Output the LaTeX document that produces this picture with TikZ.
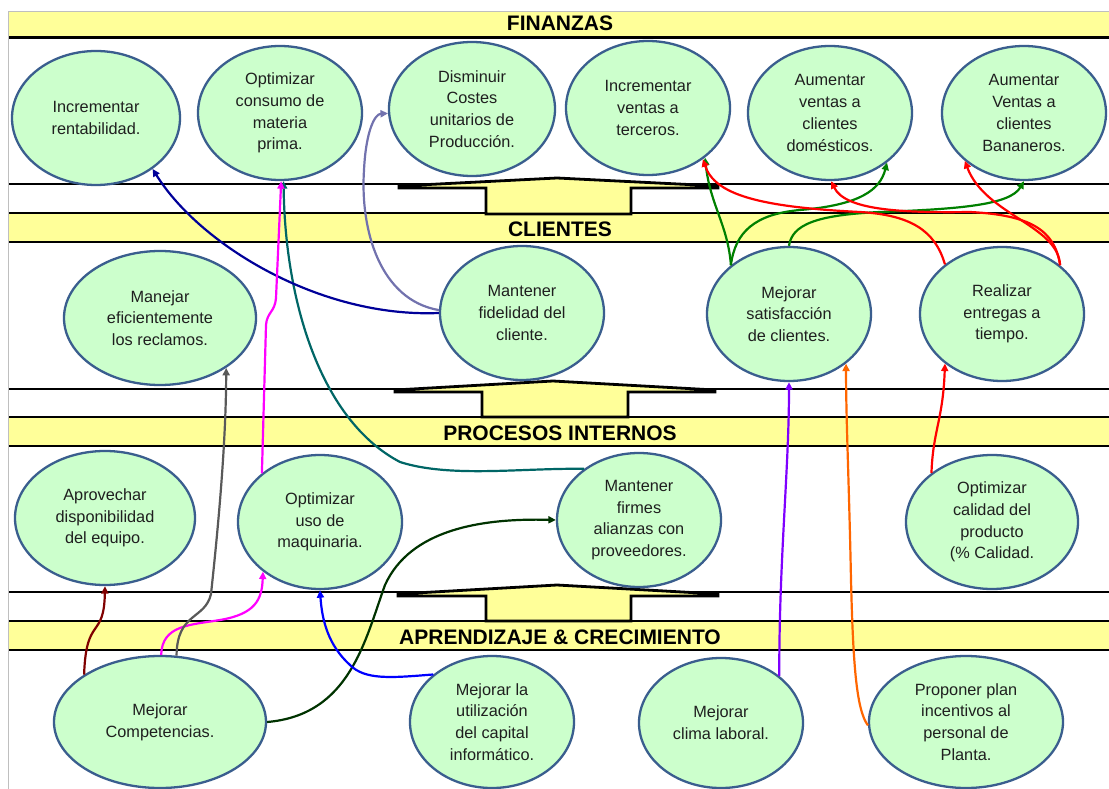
\documentclass[tikz,border=0pt]{standalone}
\usepackage{fontspec}
\setmainfont{Liberation Sans}
\usetikzlibrary{arrows.meta,shapes.geometric}
\definecolor{bandyellow}{HTML}{FFFF99}
\definecolor{goalfill}{HTML}{CCFFCC}
\definecolor{goalline}{HTML}{3A5E8E}
\definecolor{cnavy}{HTML}{000099}
\definecolor{cmag}{HTML}{FF00FF}
\definecolor{cgray}{HTML}{595959}
\definecolor{cdred}{HTML}{800000}
\definecolor{cdgreen}{HTML}{003300}
\definecolor{cblue}{HTML}{0000FF}
\definecolor{cteal}{HTML}{006666}
\definecolor{clav}{HTML}{7272AE}
\definecolor{cgreen}{HTML}{008000}
\definecolor{cred}{HTML}{FF0000}
\definecolor{cpurp}{HTML}{7F00FF}
\definecolor{corange}{HTML}{FF6600}
\definecolor{cframe}{HTML}{BFBFBF}
\begin{document}
\begin{tikzpicture}[x=1pt,y=-1pt,
  goal/.style={ellipse, draw=goalline, fill=goalfill, line width=2.3pt, inner sep=0pt, align=center,
    font=\fontsize{16.3}{21.7}\selectfont, text=black!88},
  bandfill/.style={fill=bandyellow, draw=none},
  bandlabel/.style={anchor=base, inner sep=0pt, font=\fontsize{21}{24}\bfseries\selectfont},
  bandrule/.style={line width=1.7pt},
  blockarrow/.style={fill=bandyellow, draw=black, line width=2.8pt, line join=miter},
  conn/.style={line width=2.2pt, -{Triangle[length=7.5pt,width=7pt]}},
]
\fill[white] (0,0) rectangle (1109,789);
\useasboundingbox (0,0) rectangle (1109,789);

% bands
\fill[bandfill] (8,12) rectangle (1109,37);
\fill[bandfill] (8,213) rectangle (1109,242);
\fill[bandfill] (8,417) rectangle (1109,446);
\fill[bandfill] (8,621) rectangle (1109,650);
\foreach \y in {184,213,242,389,417,446,592,621,650} \draw[bandrule] (8,\y) -- (1109,\y);
\draw[line width=2.6pt] (8,37.5) -- (1109,37.5);
\draw[cframe, line width=1pt] (8,789) -- (8,12) -- (1109,12);

% block arrows
\draw[blockarrow] (486,214) -- (486,188) -- (399,188) -- (399,186) -- (557,178) -- (718,186) -- (718,188) -- (631,188) -- (631,214) -- cycle;
\draw[blockarrow] (482,417) -- (482,392) -- (395,392) -- (395,390) -- (553,381) -- (715,390) -- (715,392) -- (628,392) -- (628,417) -- cycle;
\draw[blockarrow] (486,621) -- (486,596) -- (398,596) -- (398,594) -- (557,585) -- (718,594) -- (718,596) -- (631,596) -- (631,621) -- cycle;

% band labels
\node[bandlabel] (LF) at (560,31) {FINANZAS};
\node[bandlabel] (LC) at (560,236) {CLIENTES};
\node[bandlabel] (LP) at (560,440) {PROCESOS INTERNOS};
\node[bandlabel] (LA) at (560,644) {APRENDIZAJE \& CRECIMIENTO};

% finanzas
\node[goal, minimum width=168pt, minimum height=134pt] (A1) at (96,118) {Incrementar\\rentabilidad.};
\node[goal, minimum width=164pt, minimum height=134pt] (A2) at (280,113) {Optimizar\\consumo de\\materia\\prima.};
\node[goal, minimum width=166pt, minimum height=134pt] (A3) at (472,109) {Disminuir\\Costes\\unitarios de\\Producción.};
\node[goal, minimum width=164pt, minimum height=134pt] (A4) at (648,108) {Incrementar\\ventas a\\terceros.};
\node[goal, minimum width=164pt, minimum height=134pt] (A5) at (830,113) {Aumentar\\ventas a\\clientes\\domésticos.};
\node[goal, minimum width=164pt, minimum height=134pt] (A6) at (1024,113) {Aumentar\\Ventas a\\clientes\\Bananeros.};
% clientes
\node[goal, minimum width=192pt, minimum height=134pt] (B1) at (160,318) {Manejar\\eficientemente\\los reclamos.};
\node[goal, minimum width=164pt, minimum height=134pt] (B2) at (522,313) {Mantener\\fidelidad del\\cliente.};
\node[goal, minimum width=164pt, minimum height=134pt] (B3) at (789,314) {Mejorar\\satisfacción\\de clientes.};
\node[goal, minimum width=164pt, minimum height=134pt] (B4) at (1002,314) {Realizar\\entregas a\\tiempo.};
% procesos
\node[goal, minimum width=180pt, minimum height=134pt] (C1) at (105,518) {Aprovechar\\disponibilidad\\del equipo.};
\node[goal, minimum width=164pt, minimum height=134pt] (C2) at (320,522) {Optimizar\\uso de\\maquinaria.};
\node[goal, minimum width=164pt, minimum height=134pt] (C3) at (639,520) {Mantener\\firmes\\alianzas con\\proveedores.};
\node[goal, minimum width=172pt, minimum height=134pt] (C4) at (992,522) {Optimizar\\calidad del\\producto\\(\% Calidad.};
% aprendizaje
\node[goal, minimum width=212pt, minimum height=132pt] (D1) at (160,722) {Mejorar\\Competencias.};
\node[goal, minimum width=164pt, minimum height=132pt] (D2) at (492,722) {Mejorar la\\utilización\\del capital\\informático.};
\node[goal, minimum width=164pt, minimum height=130pt] (D3) at (721,723) {Mejorar\\clima laboral.};
\node[goal, minimum width=194pt, minimum height=132pt] (D4) at (966,722) {Proponer plan\\incentivos al\\personal de\\Planta.};

% connectors
\draw[conn, cteal] (C3.137) .. controls (520,468) and (450,478) .. (400,462) .. controls (320,420) and (285,300) .. (A2.-87);
\draw[conn, cnavy] (B2.west) .. controls (320,318) and (200,245) .. (A1.-42);
\draw[conn, clav] (B2.178) .. controls (380,300) and (360,230) .. (364,170) .. controls (366,130) and (375,114) .. (A3.183);
\draw[conn, cmag] (C2.140) -- (266,325) .. controls (267,312) and (275,312) .. (276,298) -- (A2.-89);
\draw[conn, cmag] (D1.89) .. controls (162,625) and (190,625) .. (220,620) .. controls (255,614) and (262,600) .. (C2.221);
\draw[conn, cgray] (D1.76) .. controls (177,612) and (205,620) .. (211,594) .. controls (219,520) and (226,440) .. (B1.-37);
\draw[conn, cdred] (D1.148) .. controls (86,615) and (104,640) .. (C1.south);
\draw[conn, cdgreen] (D1.east) .. controls (350,715) and (365,640) .. (385,585) .. controls (410,530) and (480,518) .. (C3.west);
\draw[conn, cblue] (D2.141) .. controls (390,678) and (365,680) .. (350,665) .. controls (328,645) and (322,620) .. (C2.south);
\draw[conn, cgreen] (B3.140) .. controls (728,225) and (710,205) .. (A4.-41);
\draw[conn, cgreen] (B3.140) .. controls (735,232) and (755,214) .. (800,210) .. controls (860,205) and (880,190) .. (A5.-41);
\draw[conn, cgreen] (B3.90) .. controls (792,225) and (815,215) .. (880,212) .. controls (960,209) and (1010,205) .. (A6.-90);
\draw[conn, cred] (B4.139) .. controls (935,230) and (910,215) .. (860,212) .. controls (760,207) and (715,195) .. (A4.-43);
\draw[conn, cred] (B4.40) .. controls (1055,230) and (1030,215) .. (970,212) .. controls (900,213) and (845,210) .. (A5.-89);
\draw[conn, cred] (B4.40) .. controls (1058,225) and (985,215) .. (A6.-141);
\draw[conn, cred] (C4.141) .. controls (933,430) and (943,420) .. (B4.-139);
\draw[conn, cpurp] (D3.39) .. controls (779,560) and (789,470) .. (B3.south);
\draw[conn, corange] (D4.182) .. controls (856,710) and (853,660) .. (851,580) .. controls (849,480) and (846,420) .. (B3.-41);
\end{tikzpicture}
\end{document}
